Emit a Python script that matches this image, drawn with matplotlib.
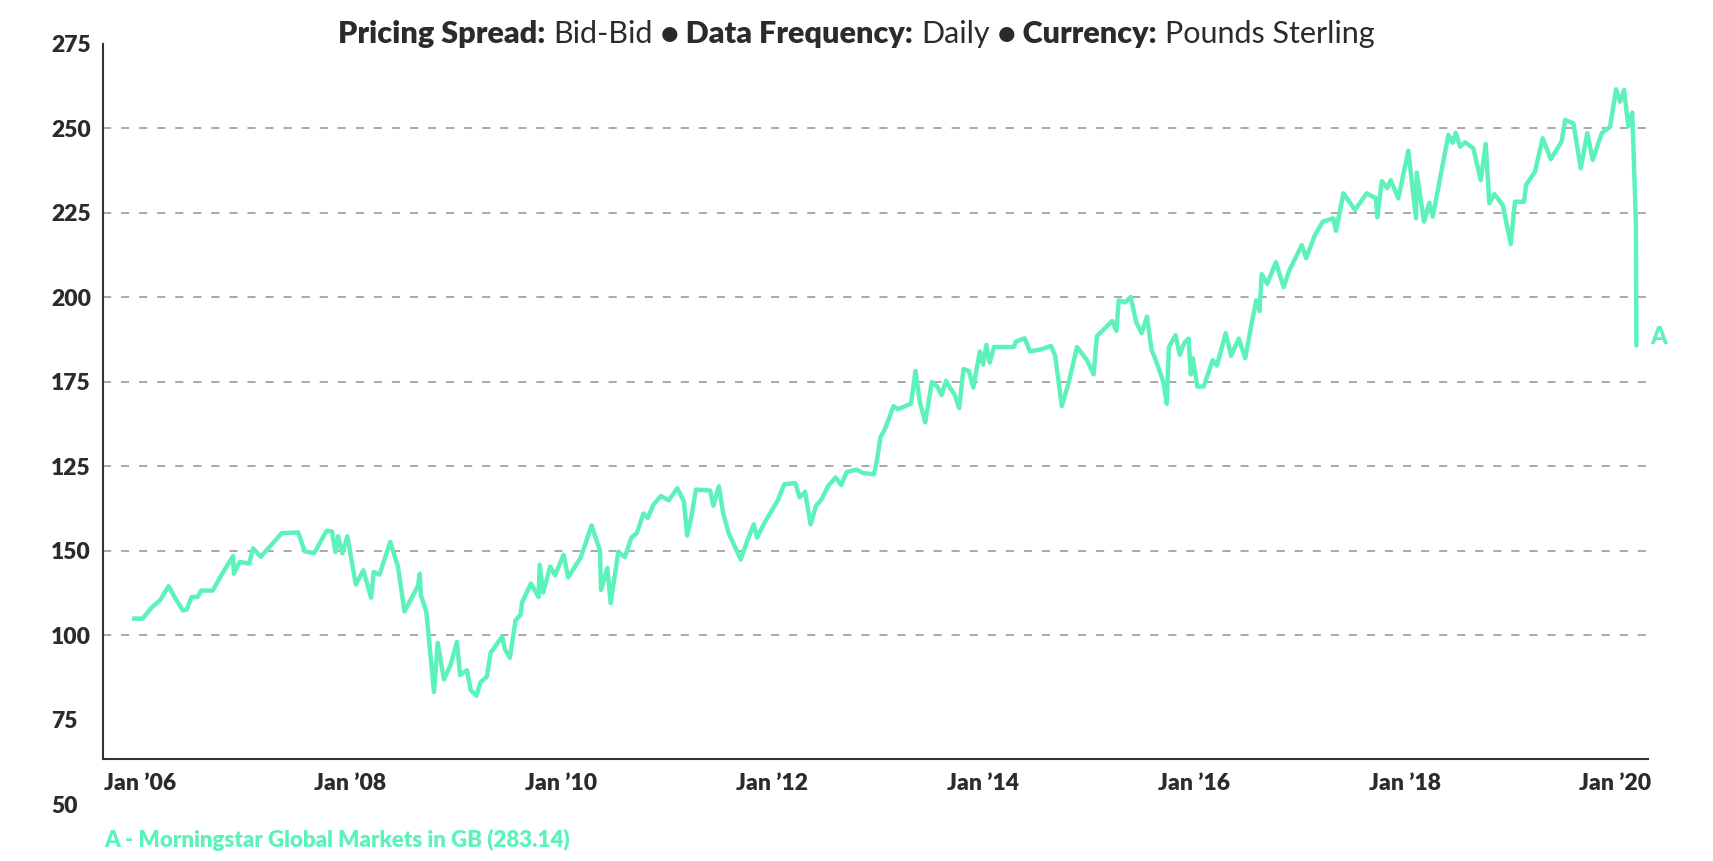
import matplotlib
matplotlib.use('Agg')
import matplotlib.pyplot as plt
from matplotlib import transforms

plt.rcParams['font.family'] = ['Lato', 'DejaVu Sans']

MINT = '#5ef2bb'
DARK = '#2b2b2b'
GRID = '#a3a3a3'

# decimal year / index value
dates = [
    2005.948, 2006.028, 2006.111, 2006.195, 2006.275, 2006.340, 2006.409, 2006.446,
    2006.493, 2006.548, 2006.584, 2006.693, 2006.777, 2006.886, 2006.893, 2006.948,
    2007.039, 2007.075, 2007.148, 2007.348, 2007.504, 2007.566, 2007.657, 2007.773,
    2007.824, 2007.857, 2007.882, 2007.922, 2007.970, 2008.050, 2008.122, 2008.195,
    2008.221, 2008.275, 2008.377, 2008.450, 2008.512, 2008.639, 2008.657, 2008.668,
    2008.719, 2008.792, 2008.828, 2008.886, 2008.948, 2009.010, 2009.039, 2009.105,
    2009.141, 2009.195, 2009.232, 2009.293, 2009.330, 2009.439, 2009.464, 2009.512,
    2009.566, 2009.613, 2009.628, 2009.712, 2009.784, 2009.795, 2009.828, 2009.894,
    2009.941, 2010.021, 2010.065, 2010.185, 2010.287, 2010.366, 2010.377,
    2010.437, 2010.468, 2010.541, 2010.603, 2010.665, 2010.717, 2010.779, 2010.821,
    2010.873, 2010.945, 2011.018, 2011.101, 2011.163, 2011.194, 2011.236, 2011.277,
    2011.412, 2011.443, 2011.495, 2011.536, 2011.588, 2011.702, 2011.764, 2011.826,
    2011.857, 2011.930, 2012.054, 2012.116, 2012.220, 2012.261, 2012.313, 2012.365,
    2012.417, 2012.468, 2012.531, 2012.603, 2012.655, 2012.707, 2012.800, 2012.862,
    2012.966, 2012.997, 2013.028, 2013.069, 2013.152, 2013.194, 2013.318, 2013.360,
    2013.401, 2013.453, 2013.515, 2013.567, 2013.608, 2013.650, 2013.692, 2013.733,
    2013.774, 2013.816, 2013.867, 2013.909, 2013.971, 2014.002, 2014.033, 2014.064,
    2014.106, 2014.157, 2014.292, 2014.313, 2014.395, 2014.447, 2014.550, 2014.645,
    2014.686, 2014.748, 2014.810, 2014.893, 2014.987, 2015.050, 2015.081, 2015.143,
    2015.226, 2015.267, 2015.288, 2015.350, 2015.402, 2015.454, 2015.505, 2015.557,
    2015.599, 2015.640, 2015.713, 2015.744, 2015.765, 2015.827, 2015.868, 2015.910,
    2015.951, 2015.972, 2015.992, 2016.034, 2016.096, 2016.179, 2016.220, 2016.303,
    2016.355, 2016.427, 2016.489, 2016.552, 2016.593, 2016.624, 2016.645, 2016.697,
    2016.780, 2016.853, 2016.904, 2016.987, 2017.025,
    2017.066, 2017.151, 2017.224, 2017.325, 2017.350, 2017.420, 2017.530, 2017.641,
    2017.729, 2017.742, 2017.784, 2017.837, 2017.869, 2017.941, 2018.036, 2018.109,
    2018.116, 2018.154, 2018.185, 2018.235, 2018.268, 2018.416, 2018.457, 2018.486,
    2018.527, 2018.574, 2018.653, 2018.723, 2018.770, 2018.805, 2018.852, 2018.932,
    2019.008, 2019.048, 2019.134, 2019.153, 2019.238, 2019.311, 2019.387, 2019.491,
    2019.523, 2019.602, 2019.672, 2019.734, 2019.786, 2019.871, 2019.950, 2020.007,
    2020.044, 2020.083, 2020.123, 2020.161, 2020.195, 2020.200,
]
values = [
    104.9, 104.9, 108.1, 110.4, 114.5, 110.8, 107.3, 107.6,
    111.3, 111.3, 113.2, 113.2, 117.9, 123.4, 118.2, 121.7,
    121.2, 125.7, 123.2, 130.2, 130.4, 124.8, 124.3, 130.9,
    130.7, 124.6, 129.3, 124.2, 129.3, 115.0, 119.2, 111.1,
    118.7, 117.9, 127.6, 120.3, 107.0, 114.5, 118.2, 111.8,
    107.0, 83.2, 97.7, 86.9, 91.1, 98.0, 88.2, 89.6,
    83.7, 82.1, 86.0, 87.7, 94.8, 99.6, 95.9, 93.3,
    104.4, 106.0, 109.7, 115.3, 111.3, 120.8, 112.6, 120.3,
    117.7, 123.8, 117.1, 123.0, 132.5, 125.1, 113.4,
    119.9, 109.5, 124.7, 123.1, 128.9, 130.2, 136.0, 134.7,
    138.6, 141.2, 139.9, 143.5, 139.6, 129.5, 135.4, 143.1,
    142.8, 138.3, 144.1, 136.0, 130.2, 122.4, 127.9, 132.8,
    128.9, 133.4, 139.9, 144.7, 145.0, 140.8, 142.4, 132.8,
    138.3, 140.2, 144.1, 146.7, 144.4, 148.3, 149.0, 148.0,
    147.6, 152.2, 158.6, 160.9, 167.8, 166.9, 168.5, 178.2,
    169.1, 163.0, 174.9, 173.6, 171.1, 175.3, 173.0, 171.1,
    167.2, 178.8, 178.2, 173.3, 184.0, 180.1, 185.9, 180.7,
    185.3, 185.3, 185.3, 186.9, 187.9, 184.0, 184.6, 185.6,
    182.7, 167.8, 174.3, 185.3, 181.4, 177.2, 188.5, 190.4,
    193.0, 190.1, 199.1, 198.5, 200.1, 192.7, 189.4, 194.3,
    184.6, 181.4, 174.9, 168.5, 185.3, 188.8, 183.0, 186.5,
    187.8, 177.2, 182.0, 173.6, 173.6, 181.4, 179.8, 189.4,
    182.7, 187.8, 182.0, 192.7, 199.1, 195.9, 206.9, 204.0,
    210.4, 203.0, 207.8, 213.0, 215.5,
    211.6, 218.5, 222.4, 223.4, 219.7, 230.8, 225.9, 230.8,
    229.3, 223.7, 234.4, 232.3, 234.7, 229.3, 243.4, 223.4,
    236.9, 229.0, 222.4, 228.0, 223.9, 248.1, 245.8, 248.7,
    244.6, 245.9, 244.1, 234.7, 245.4, 227.8, 230.6, 227.3,
    215.8, 228.3, 228.3, 233.3, 237.2, 247.1, 240.9, 246.1,
    252.5, 251.5, 238.2, 248.6, 240.7, 248.6, 250.5, 261.6,
    257.9, 261.4, 250.7, 254.7, 222.0, 185.9,
]

x_ticks = [2006, 2008, 2010, 2012, 2014, 2016, 2018, 2020]
x_labels = ['Jan \u201906', 'Jan \u201908', 'Jan \u201910', 'Jan \u201912',
            'Jan \u201914', 'Jan \u201916', 'Jan \u201918', 'Jan \u201920']
y_pos = [275, 250, 225, 200, 175, 150, 125, 100, 75, 50]
y_labels = ['275', '250', '225', '200', '175', '125', '150', '100', '75', '50']
grid_pos = [250, 225, 200, 175, 150, 125, 100]

title_parts = [('Pricing Spread:', 'heavy'), ('Bid-Bid', 'normal'),
               ('\u2022 Data Frequency:', 'heavy'), ('Daily', 'normal'),
               ('\u2022 Currency:', 'heavy'), ('Pounds Sterling', 'normal')]
series_tag = 'A'
footnote = 'A - Morningstar Global Markets in GB (283.14)'

W, H = 1713, 861
fig = plt.figure(figsize=(W / 100, H / 100), dpi=100)
ax = fig.add_axes([102.7 / W, 1 - 759.3 / H, (1648 - 102.7) / W, (759.3 - 44) / H])

for g in grid_pos:
    ax.axhline(g, color=GRID, lw=1.3, ls=(0, (4.5, 5.5)), zorder=0)

ax.plot(dates, values, color=MINT, lw=3.2, zorder=3)
ax.annotate(series_tag, xy=(dates[-1], values[-1]), xytext=(16, 6),
            textcoords='offset points', ha='center', va='center',
            color=MINT, fontsize=17, fontweight='heavy')

ax.set_xlim(2005.649, 2020.31)
ax.set_ylim(63.25, 275)

for s in ['top', 'right']:
    ax.spines[s].set_visible(False)
for s in ['left', 'bottom']:
    ax.spines[s].set_color('#333333')
    ax.spines[s].set_linewidth(1.5)

ax.set_yticks([])
ax.set_xticks(x_ticks)
ax.set_xticklabels(x_labels, fontsize=16.5, fontweight='heavy', color=DARK)
ax.tick_params(axis='x', length=0, pad=10)

trans = transforms.blended_transform_factory(fig.transFigure, ax.transData)
for v, lab in zip(y_pos, y_labels):
    ax.text(51 / W, v, lab, transform=trans, ha='left', va='center_baseline',
            fontsize=16.5, fontweight='heavy', color=DARK)

# title built from heavy and regular pieces, centred on the figure
renderer = fig.canvas.get_renderer()
fs = 22
gap = 0.27 * fs * 100 / 72
texts = []
for txt, wt in title_parts:
    t = fig.text(0, 1 - 43 / H, txt, fontsize=fs, fontweight=wt, color=DARK,
                 ha='left', va='baseline')
    texts.append(t)
widths = [t.get_window_extent(renderer).width for t in texts]
total = sum(widths) + gap * (len(texts) - 1)
x = (W - total) / 2
for t, w in zip(texts, widths):
    t.set_x(x / W)
    x += w + gap

fig.text(103.8 / W, 1 - 840 / H, footnote, ha='left', va='center',
         fontsize=16, fontweight='heavy', color=MINT)

fig.savefig('out.png', dpi=100)
